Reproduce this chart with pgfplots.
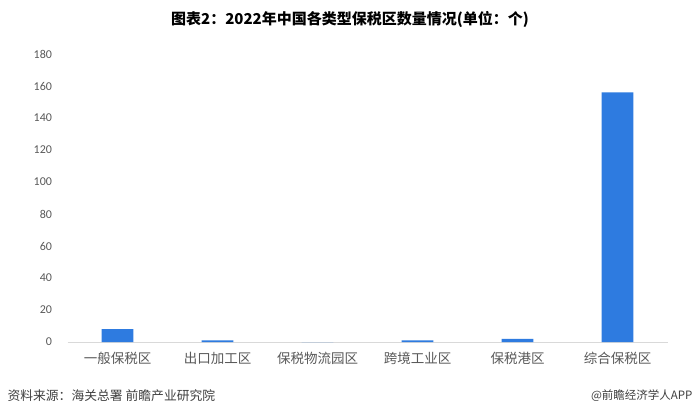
\documentclass[border=0pt]{standalone}
\usepackage{fontspec}
\setmainfont{Carlito}
\newfontfamily\cjk{Noto Sans CJK SC}
\usepackage{pgfplots}
\pgfplotsset{compat=1.18}
\definecolor{barblue}{HTML}{2E7BE0}
\definecolor{ticktext}{HTML}{595959}
\definecolor{axisgray}{HTML}{D9D9D9}
\definecolor{foot}{HTML}{404040}

\begin{document}
\begin{tikzpicture}[x=1pt,y=1pt]
  \useasboundingbox[fill=white] (0,0) rectangle (700,416);
  \begin{axis}[
      at={(67.5pt,74pt)}, anchor=south west,
      scale only axis, width=600pt, height=288pt,
      xmin=-0.5, xmax=5.5, ymin=0, ymax=180,
      ytick={0,20,...,180},
      xtick={0,...,5},
      xticklabels={一般保税区,出口加工区,保税物流园区,跨境工业区,保税港区,综合保税区},
      axis x line=bottom, axis y line=left,
      x axis line style={-, draw=axisgray, line width=0.8pt},
      y axis line style={draw=none},
      major tick length=0pt,
      /pgf/number format/assume math mode=true,
      yticklabel style={text=ticktext, font=\fontsize{12}{12}\selectfont, xshift=-12pt},
      xticklabel style={text=ticktext, font=\cjk\fontsize{13.5}{14}\selectfont, yshift=-7pt},
      clip=false,
    ]
    \addplot[ybar, bar width=0.317, fill=barblue, draw=none]
      coordinates {(0,8) (1,1) (2,0) (3,1) (4,2) (5,156)};
  \end{axis}
  \node[font=\cjk\bfseries\fontsize{15}{16}\selectfont] at (350,397)
    {图表2：2022年中国各类型保税区数量情况(单位：个)};
  \node[anchor=west, text=foot, font=\cjk\fontsize{12.8}{13}\selectfont] at (4,20)
    {资料来源：海关总署 前瞻产业研究院};
  \node[anchor=east, text=foot, font=\cjk\fontsize{11.5}{12}\selectfont] at (696,20)
    {@前瞻经济学人APP};
\end{tikzpicture}
\end{document}
